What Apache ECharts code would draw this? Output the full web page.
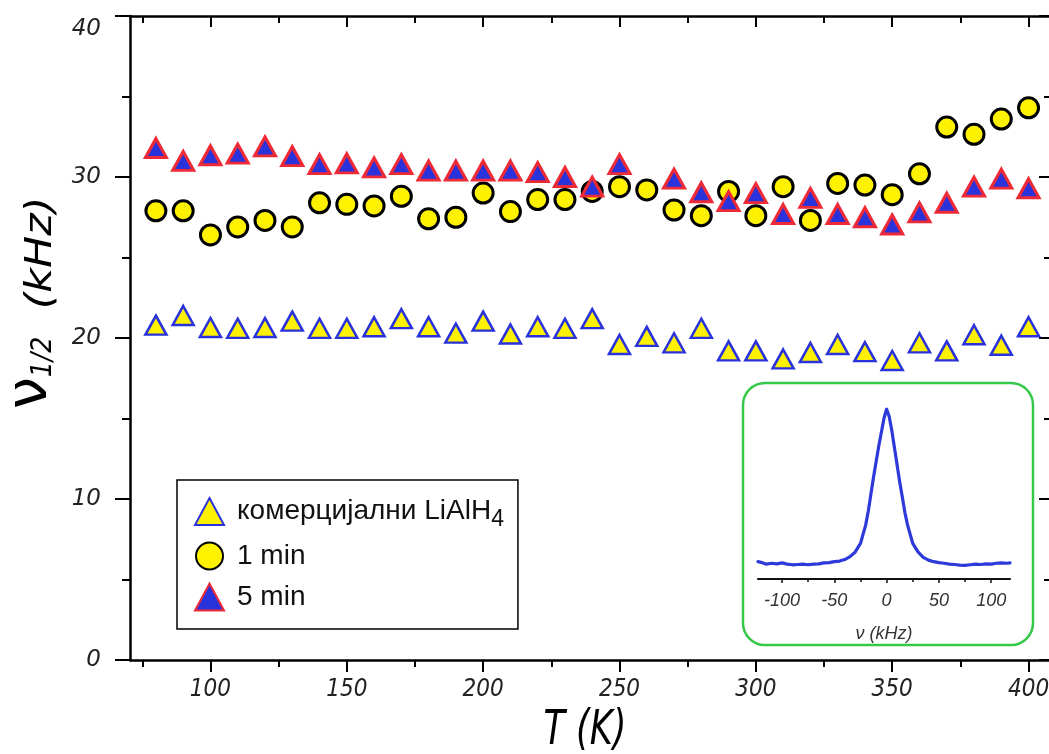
<!DOCTYPE html>
<html>
<head>
<meta charset="utf-8">
<script src="https://cdn.jsdelivr.net/npm/echarts@6/dist/echarts.min.js"></script>
<style>
  html, body { margin: 0; padding: 0; background: #fff; }
  #chart { width: 1049px; height: 754px; }
</style>
</head>
<body>
<div id="chart"></div>
<script>
// Temperatures (K)
const temps = [80, 90, 100, 110, 120, 130, 140, 150, 160, 170, 180, 190, 200, 210, 220, 230,
  240, 250, 260, 270, 280, 290, 300, 310, 320, 330, 340, 350, 360, 370, 380, 390, 400];

// Line widths ν1/2 (kHz)
const commercial = [20.8, 21.4, 20.65, 20.6, 20.65, 21.05, 20.6, 20.6, 20.7, 21.2, 20.7, 20.3, 21.05, 20.25, 20.7, 20.6,
  21.2, 19.6, 20.1, 19.7, 20.6, 19.2, 19.2, 18.7, 19.1, 19.6, 19.15, 18.6, 19.7, 19.2, 20.2, 19.55, 20.7];
const oneMin = [27.9, 27.9, 26.4, 26.9, 27.3, 26.9, 28.4, 28.3, 28.2, 28.8, 27.4, 27.5, 29.0, 27.85, 28.6, 28.6,
  29.1, 29.4, 29.2, 27.95, 27.6, 29.1, 27.6, 29.4, 27.3, 29.6, 29.5, 28.9, 30.2, 33.1, 32.65, 33.6, 34.3];
const fiveMin = [31.8, 31.0, 31.35, 31.45, 31.9, 31.3, 30.8, 30.85, 30.6, 30.8, 30.4, 30.4, 30.4, 30.4, 30.3, 30.0,
  29.4, 30.8, null, 29.9, 29.05, 28.5, 29.0, 27.7, 28.7, 27.7, 27.5, 27.05, 27.8, 28.4, 29.4, 29.9, 29.3];

const seriesNames = ['комерцијални LiAlH4', '1 min', '5 min'];

// Axis ticks
const xMajor = [100, 150, 200, 250, 300, 350, 400];
const xMinor = [75, 125, 175, 225, 275, 325, 375];

// Inset spectrum: frequency (kHz) and normalised intensity
const insetNu = [-123, -120, -115, -110, -105, -100, -95, -90, -85, -80, -75, -70, -65, -60, -55, -50, -45, -40,
  -35, -30, -25, -20, -17.5, -15, -12.5, -10, -7.5, -5, -2.5, 0, 2.5, 5, 7.5, 10, 12.5, 15, 17.5, 20, 25, 30,
  35, 40, 45, 50, 55, 60, 65, 70, 75, 80, 85, 90, 95, 100, 105, 110, 115, 118];
const insetI = [0.012, 0.008, -0.004, 0.002, -0.002, 0.004, -0.004, -0.008, -0.006, -0.004, -0.008, -0.004, -0.002,
  0.004, 0.006, 0.012, 0.016, 0.026, 0.045, 0.075, 0.13, 0.25, 0.34, 0.45, 0.56, 0.66, 0.76, 0.85, 0.94, 1.0,
  0.95, 0.86, 0.75, 0.64, 0.53, 0.43, 0.33, 0.25, 0.13, 0.075, 0.04, 0.022, 0.012, 0.006, 0.002, -0.004, -0.006,
  -0.01, -0.012, -0.008, -0.004, -0.006, -0.002, -0.004, 0.002, 0.004, 0.002, 0.004];
const insetMajor = [-100, -50, 0, 50, 100];
const insetMinor = [-75, -25, 25, 75];

const YELLOW = '#fff200';
const BLUE = '#2a33db';
const RED = '#ee2a36';
const TITLE_FONT = "'DejaVu Sans Condensed', 'DejaVu Sans', sans-serif";
const X_TICK_FONT = "'DejaVu Sans Condensed', 'DejaVu Sans', sans-serif";
const Y_TICK_FONT = "'DejaVu Sans', sans-serif";
const ARIAL = "'Liberation Sans', Arial, sans-serif";

const pairs = (xs, ys) => xs.map((x, i) => [x, ys[i]]);

const chart = echarts.init(document.getElementById('chart'), null, { renderer: 'canvas' });

const mainX = { gridIndex: 0, type: 'value', min: 70.5, max: 407.5, splitLine: { show: false } };
const yLabelStyle = { color: '#222', fontSize: 23, fontStyle: 'italic', fontFamily: Y_TICK_FONT };

chart.setOption({
  animation: false,
  backgroundColor: '#fff',
  grid: [
    { left: 130, right: 0, top: 16, bottom: 94, containLabel: false, outerBoundsMode: 'none' },
    { left: 758, width: 252, top: 409, height: 170, containLabel: false, outerBoundsMode: 'none' }
  ],
  xAxis: [
    Object.assign({}, mainX, {
      position: 'bottom',
      axisLine: { lineStyle: { color: '#000', width: 2.5 } },
      axisTick: { customValues: xMajor, length: 12, lineStyle: { color: '#000', width: 2 } },
      axisLabel: { customValues: xMajor, margin: 18, color: '#222', fontSize: 24, fontStyle: 'italic', fontFamily: X_TICK_FONT }
    }),
    Object.assign({}, mainX, {
      position: 'bottom',
      axisLine: { show: false },
      axisTick: { customValues: xMinor, length: 7, lineStyle: { color: '#000', width: 2 } },
      axisLabel: { show: false }
    }),
    Object.assign({}, mainX, {
      position: 'top',
      axisLine: { lineStyle: { color: '#000', width: 2.5 } },
      axisTick: { customValues: xMajor, inside: true, length: 11, lineStyle: { color: '#000', width: 2 } },
      axisLabel: { show: false }
    }),
    Object.assign({}, mainX, {
      position: 'top',
      axisLine: { show: false },
      axisTick: { customValues: xMinor, inside: true, length: 7, lineStyle: { color: '#000', width: 2 } },
      axisLabel: { show: false }
    }),
    {
      gridIndex: 1, type: 'value', min: -123, max: 118, position: 'bottom',
      splitLine: { show: false },
      axisLine: { onZero: false, lineStyle: { color: '#111', width: 2.2 } },
      axisTick: { customValues: insetMajor, length: 4, lineStyle: { color: '#111', width: 1.5 } },
      axisLabel: { customValues: insetMajor, margin: 13, color: '#333', fontSize: 18, fontStyle: 'italic', fontFamily: ARIAL },
      name: 'ν (kHz)', nameLocation: 'middle', nameGap: 46,
      nameTextStyle: { color: '#333', fontSize: 18, fontStyle: 'italic', fontFamily: ARIAL }
    },
    {
      gridIndex: 1, type: 'value', min: -123, max: 118, position: 'bottom',
      splitLine: { show: false },
      axisLine: { show: false, onZero: false },
      axisTick: { customValues: insetMinor, length: 3, lineStyle: { color: '#111', width: 1.5 } },
      axisLabel: { show: false }
    }
  ],
  yAxis: [
    {
      gridIndex: 0, type: 'value', min: 0, max: 40, interval: 10, position: 'left',
      splitLine: { show: false },
      axisLine: { show: true, lineStyle: { color: '#000', width: 2.5 } },
      axisTick: { show: true, length: 15, lineStyle: { color: '#000', width: 2 } },
      minorTick: { show: true, splitNumber: 2, length: 8, lineStyle: { color: '#000', width: 2 } },
      axisLabel: Object.assign({}, yLabelStyle, {
        margin: 29,
        formatter: v => (v === 40 ? '{t|40}' : String(v)),
        rich: { t: Object.assign({}, yLabelStyle, { padding: [26, 0, 0, 0] }) }
      })
    },
    {
      gridIndex: 0, type: 'value', min: 0, max: 40, interval: 10, position: 'right',
      splitLine: { show: false },
      axisLine: { show: false },
      axisTick: { show: true, inside: true, length: 10, lineStyle: { color: '#000', width: 2 } },
      minorTick: { show: true, splitNumber: 2, length: 5, lineStyle: { color: '#000', width: 2 } },
      axisLabel: { show: false }
    },
    { gridIndex: 1, type: 'value', min: -0.1, max: 1, show: false }
  ],
  legend: {
    data: seriesNames,
    orient: 'vertical',
    left: 177, top: 480,
    padding: [12, 14, 16, 17],
    itemGap: 9,
    itemWidth: 29, itemHeight: 27,
    borderColor: '#000', borderWidth: 1.5, borderRadius: 0,
    backgroundColor: '#fff',
    selectedMode: false,
    textStyle: {
      color: '#111', fontSize: 28, fontFamily: ARIAL,
      lineHeight: 32, padding: [0, 0, 0, 8],
      rich: {
        a: { fontSize: 28, lineHeight: 32, color: '#111', fontFamily: ARIAL },
        s: { fontSize: 23, lineHeight: 12, padding: [16, 0, 0, 0], color: '#111', fontFamily: ARIAL }
      }
    },
    formatter: name => (name === seriesNames[0] ? '{a|комерцијални LiAlH}{s|4}' : name)
  },
  graphic: [
    {
      type: 'rect', z: 1,
      shape: { x: 743, y: 383, width: 290, height: 262, r: 22 },
      style: { fill: 'rgba(0,0,0,0)', stroke: '#35c94a', lineWidth: 2.5 }
    },
    {
      type: 'text', x: 31, y: 393, rotation: Math.PI / 2,
      style: { text: 'ν', fontSize: 57, fontFamily: "'DejaVu Sans', sans-serif", fill: '#000', align: 'center', verticalAlign: 'middle' }
    },
    {
      type: 'text', x: 44, y: 357, rotation: Math.PI / 2,
      style: { text: '1/2', fontSize: 28, fontStyle: 'italic', fontFamily: TITLE_FONT, fill: '#000', align: 'center', verticalAlign: 'middle' }
    },
    {
      type: 'text', x: 41, y: 253, rotation: Math.PI / 2, scaleX: 1.25,
      style: { text: '(kHz)', fontSize: 38, fontStyle: 'italic', fontFamily: TITLE_FONT, fill: '#000', align: 'center', verticalAlign: 'middle' }
    },
    {
      type: 'text', x: 585, y: 732, scaleY: 1.22,
      style: { text: 'T (K)', fontSize: 39, fontStyle: 'italic', fontFamily: TITLE_FONT, fill: '#000', align: 'center', verticalAlign: 'middle' }
    }
  ],
  series: [
    {
      name: seriesNames[0], type: 'scatter', xAxisIndex: 0, yAxisIndex: 0,
      symbol: 'triangle', symbolSize: [21, 19],
      itemStyle: { color: YELLOW, borderColor: BLUE, borderWidth: 2.5, opacity: 1 },
      data: pairs(temps, commercial), z: 3
    },
    {
      name: seriesNames[1], type: 'scatter', xAxisIndex: 0, yAxisIndex: 0,
      symbol: 'circle', symbolSize: 20,
      itemStyle: { color: YELLOW, borderColor: '#000', borderWidth: 3, opacity: 1 },
      data: pairs(temps, oneMin), z: 4
    },
    {
      name: seriesNames[2], type: 'scatter', xAxisIndex: 0, yAxisIndex: 0,
      symbol: 'triangle', symbolSize: [21, 19],
      itemStyle: { color: BLUE, borderColor: RED, borderWidth: 3, opacity: 1 },
      data: pairs(temps, fiveMin).filter(p => p[1] !== null), z: 5
    },
    {
      name: 'spectrum', type: 'line', xAxisIndex: 4, yAxisIndex: 2,
      showSymbol: false, smooth: false, silent: true,
      lineStyle: { color: '#2d3ad9', width: 3.2, cap: 'round', join: 'round' },
      data: pairs(insetNu, insetI), z: 3
    }
  ]
});
</script>
</body>
</html>
